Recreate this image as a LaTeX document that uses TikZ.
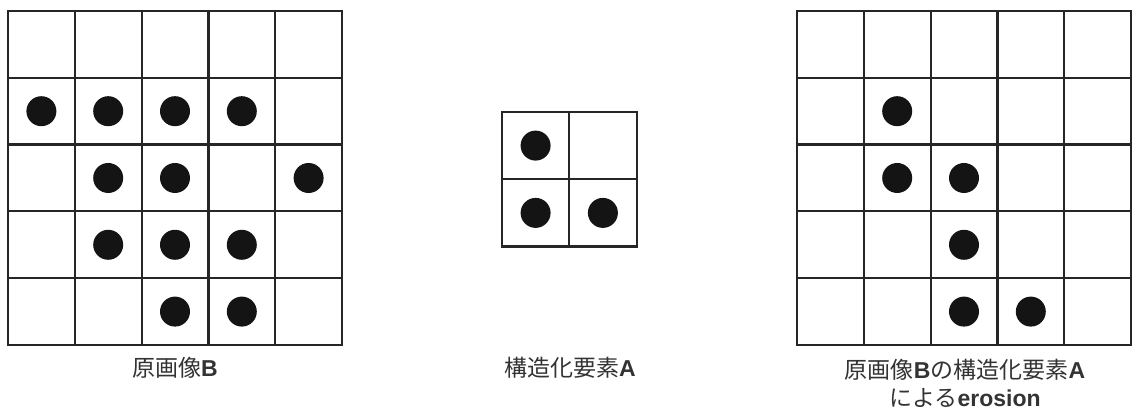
\documentclass[tikz,border=0pt]{standalone}
\usepackage{fontspec}
\setsansfont{Liberation Sans}
\newfontfamily\cjk{Noto Sans CJK JP}
\usetikzlibrary{positioning}
\newcommand{\latin}[1]{{\sffamily\bfseries #1}}

\begin{document}
\begin{tikzpicture}[
  x=0.5pt, y=-0.5pt,
  gridline/.style={line width=1.1pt, draw=black!85, line cap=rect},
  dot/.style={circle, fill=black!92, minimum size=15pt, inner sep=0pt},
  caption/.style={font=\cjk\fontsize{11.5}{14}\selectfont, text=black!80,
    align=center, inner sep=0pt},
]
\useasboundingbox (0,0) rectangle (1132,410);

% ===== original image B =====
\foreach \i in {0,...,5} {
  \draw[gridline] (8+\i*66.8, 11) -- (8+\i*66.8, 345);
  \draw[gridline] (8, 11+\i*66.8) -- (342, 11+\i*66.8);
}
\foreach \r/\c in {1/0, 1/1, 1/2, 1/3, 2/1, 2/2, 2/4, 3/1, 3/2, 3/3, 4/2, 4/3}
  \node[dot] (b-\r-\c) at (8+\c*66.8+33.4, 11+\r*66.8+33.4) {};
\node[caption] (capB) at (175, 368) {原画像\latin{B}};

% ===== structuring element A =====
\foreach \i in {0,...,2} {
  \draw[gridline] (502+\i*67.3, 112) -- (502+\i*67.3, 246.6);
  \draw[gridline] (502, 112+\i*67.3) -- (636.6, 112+\i*67.3);
}
\foreach \r/\c in {0/0, 1/0, 1/1}
  \node[dot] (a-\r-\c) at (502+\c*67.3+33.6, 112+\r*67.3+33.6) {};
\node[caption] (capA) at (570, 368) {構造化要素\latin{A}};

% ===== erosion result =====
\foreach \i in {0,...,5} {
  \draw[gridline] (797+\i*66.8, 11) -- (797+\i*66.8, 345);
  \draw[gridline] (797, 11+\i*66.8) -- (1131, 11+\i*66.8);
}
\foreach \r/\c in {1/1, 2/1, 2/2, 3/2, 4/2, 4/3}
  \node[dot] (e-\r-\c) at (797+\c*66.8+33.4, 11+\r*66.8+33.4) {};
\node[caption] (capE) at (965, 383)
  {原画像\latin{B}の構造化要素\latin{A}\\による\latin{erosion}};

\end{tikzpicture}
\end{document}
